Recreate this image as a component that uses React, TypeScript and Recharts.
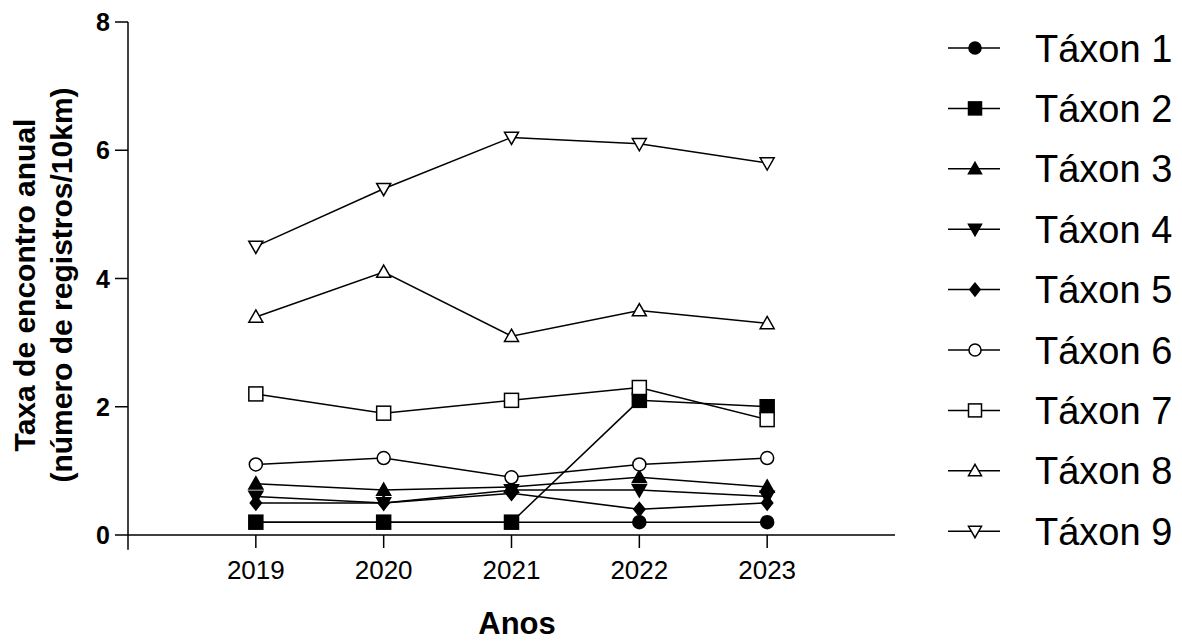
import React from "react";
import {
  LineChart,
  Line,
  XAxis,
  YAxis,
  ReferenceLine,
} from "recharts";

// ── data ────────────────────────────────────────────────────────────────────
const YEARS = [2019, 2020, 2021, 2022, 2023];
const Y_TICKS = [0, 2, 4, 6, 8];

const TAXON_1 = [0.2, 0.2, 0.2, 0.2, 0.2];
const TAXON_2 = [0.2, 0.2, 0.2, 2.1, 2.0];
const TAXON_3 = [0.8, 0.7, 0.75, 0.9, 0.75];
const TAXON_4 = [0.6, 0.5, 0.7, 0.7, 0.6];
const TAXON_5 = [0.5, 0.5, 0.65, 0.4, 0.5];
const TAXON_6 = [1.1, 1.2, 0.9, 1.1, 1.2];
const TAXON_7 = [2.2, 1.9, 2.1, 2.3, 1.8];
const TAXON_8 = [3.4, 4.1, 3.1, 3.5, 3.3];
const TAXON_9 = [4.5, 5.4, 6.2, 6.1, 5.8];

type Shape = "circle" | "square" | "up" | "down" | "diamond";

const SERIES: { key: string; name: string; values: number[]; shape: Shape; filled: boolean }[] = [
  { key: "t1", name: "Táxon 1", values: TAXON_1, shape: "circle", filled: true },
  { key: "t2", name: "Táxon 2", values: TAXON_2, shape: "square", filled: true },
  { key: "t3", name: "Táxon 3", values: TAXON_3, shape: "up", filled: true },
  { key: "t4", name: "Táxon 4", values: TAXON_4, shape: "down", filled: true },
  { key: "t5", name: "Táxon 5", values: TAXON_5, shape: "diamond", filled: true },
  { key: "t6", name: "Táxon 6", values: TAXON_6, shape: "circle", filled: false },
  { key: "t7", name: "Táxon 7", values: TAXON_7, shape: "square", filled: false },
  { key: "t8", name: "Táxon 8", values: TAXON_8, shape: "up", filled: false },
  { key: "t9", name: "Táxon 9", values: TAXON_9, shape: "down", filled: false },
];

const data = YEARS.map((year, i) => {
  const row: Record<string, number> = { year };
  SERIES.forEach((s) => (row[s.key] = s.values[i]));
  return row;
});

const FONT = "'Liberation Sans', Arial, sans-serif";

// ── marker glyphs ───────────────────────────────────────────────────────────
function Marker({ cx, cy, shape, filled, r = 7 }: { cx: number; cy: number; shape: Shape; filled: boolean; r?: number }) {
  const fill = filled ? "#000" : "#fff";
  const common = { fill, stroke: "#000", strokeWidth: 1.5 };
  switch (shape) {
    case "circle":
      return <circle cx={cx} cy={cy} r={r * 0.93} {...common} />;
    case "square":
      return <rect x={cx - r} y={cy - r} width={2 * r} height={2 * r} {...common} />;
    case "up":
      return <polygon points={`${cx},${cy - r} ${cx + r},${cy + r * 0.75} ${cx - r},${cy + r * 0.75}`} {...common} />;
    case "down":
      return <polygon points={`${cx - r},${cy - r * 0.75} ${cx + r},${cy - r * 0.75} ${cx},${cy + r}`} {...common} />;
    default:
      return <polygon points={`${cx},${cy - r} ${cx + r * 0.8},${cy} ${cx},${cy + r} ${cx - r * 0.8},${cy}`} {...common} />;
  }
}

// legend drawn beside the chart, not inside its layout
const LegendBox = () => (
  <svg width={262} height={560} style={{ position: "absolute", left: 920, top: 25, overflow: "visible" }}>
    {SERIES.map((s, i) => {
      const y = 23 + i * 60.4;
      return (
        <g key={s.key}>
          <line x1={28} x2={80} y1={y} y2={y} stroke="#000" strokeWidth={1.5} />
          <Marker cx={55} cy={y} shape={s.shape} filled={s.filled} r={6.5} />
          <text x={115} y={y} dy="0.36em" fontSize={38} fontFamily={FONT} fill="#000">
            {s.name}
          </text>
        </g>
      );
    })}
  </svg>
);

const YTick = ({ x, y, payload }: any) => (
  <text x={x} y={y} dy="0.36em" textAnchor="end" fontSize={25} fontWeight="bold" fontFamily={FONT} fill="#000">
    {payload.value}
  </text>
);

const YLabel = () => (
  <g fontSize={30} fontWeight="bold" fontFamily={FONT} fill="#000" textAnchor="middle">
    <text x={24} y={285} transform="rotate(-90 24 285)" dy="0.36em">
      Taxa de encontro anual
    </text>
    <text x={61} y={285} transform="rotate(-90 61 285)" dy="0.36em">
      (número de registros/10km)
    </text>
  </g>
);

const XLabel = () => (
  <text x={517} y={634} textAnchor="middle" fontSize={31} fontWeight="bold" fontFamily={FONT} fill="#000">
    Anos
  </text>
);

export default function App() {
  return (
    <div style={{ position: "absolute", left: 0, top: 0, width: 1182, height: 642, background: "#fff" }}>
      <LineChart width={1182} height={642} data={data} margin={{ top: 22, right: 287, left: 28, bottom: 47 }}>
        <XAxis
          type="number"
          dataKey="year"
          domain={[2018, 2024]}
          ticks={YEARS}
          allowDataOverflow
          height={60}
          stroke="#000"
          strokeWidth={1.5}
          tickSize={13}
          tickMargin={13}
          tick={{ fontSize: 26, fill: "#000", fontFamily: FONT }}
          label={{ content: () => <XLabel /> }}
        />
        <YAxis
          domain={[0, 8]}
          ticks={Y_TICKS}
          width={100}
          stroke="#000"
          strokeWidth={1.5}
          tickSize={13}
          tickMargin={5}
          tick={<YTick />}
          label={{ content: () => <YLabel /> }}
        />
        <ReferenceLine
          segment={[{ x: 2018, y: 0 }, { x: 2018, y: -0.23 }]}
          stroke="#000"
          strokeWidth={1.5}
          ifOverflow="visible"
        />
        {SERIES.map((s) => (
          <Line
            key={s.key}
            dataKey={s.key}
            name={s.name}
            stroke="#000"
            strokeWidth={1.5}
            isAnimationActive={false}
            dot={(p: any) => <Marker key={`${s.key}-${p.index}`} cx={p.cx} cy={p.cy} shape={s.shape} filled={s.filled} />}
            activeDot={false}
          />
        ))}
      </LineChart>
      <LegendBox />
    </div>
  );
}
